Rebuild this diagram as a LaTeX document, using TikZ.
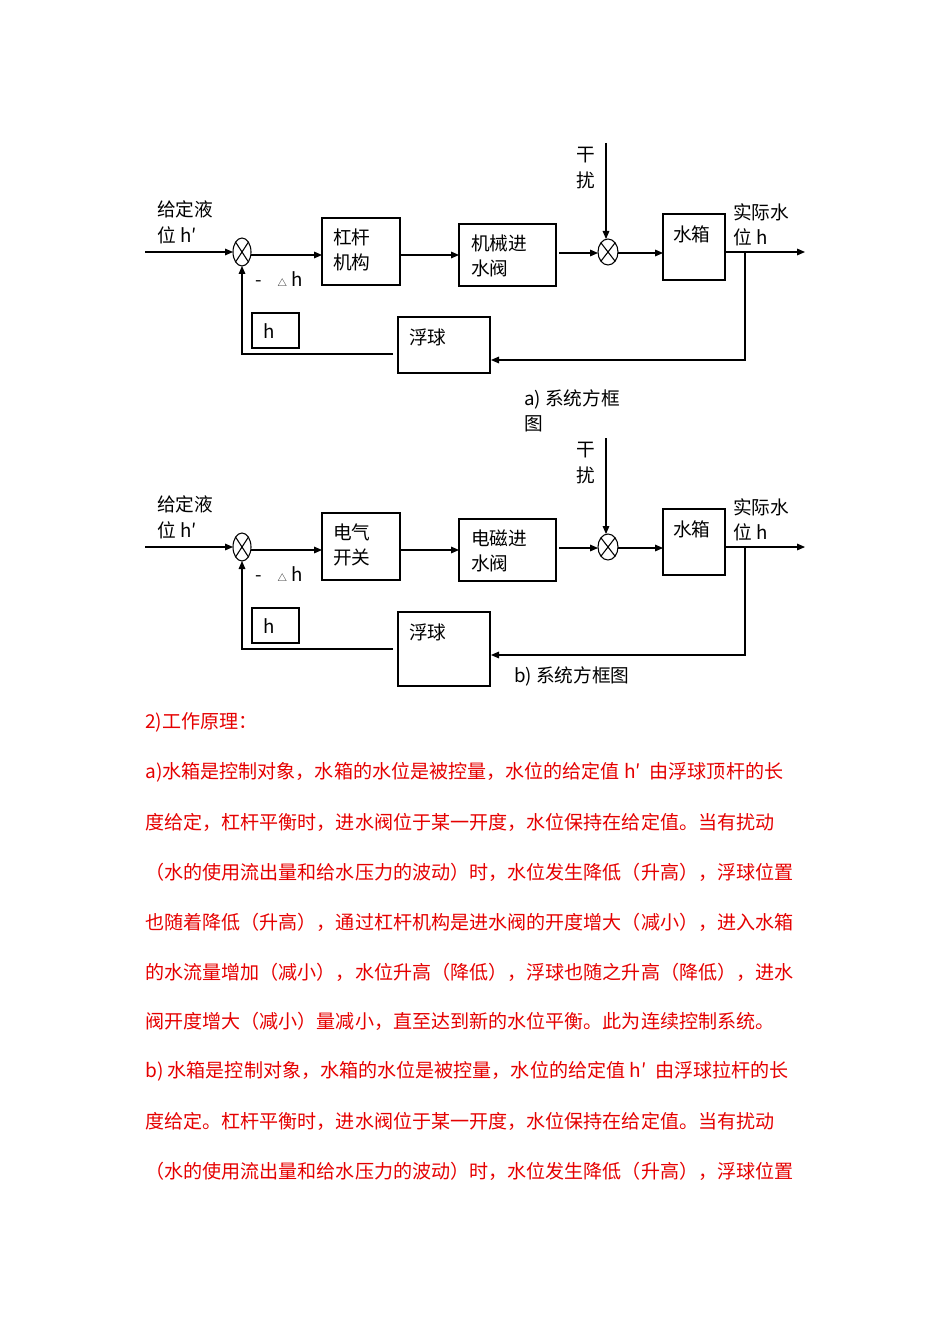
\documentclass[tikz,border=0pt]{standalone}
\usepackage{fontspec}
\setmainfont{Noto Sans CJK SC}
\usetikzlibrary{arrows.meta}
\begin{document}
\begin{tikzpicture}[x=0.75pt,y=-0.75pt,
  ln/.style={line width=0.8pt},
  arr/.style={line width=0.8pt,-{Triangle[length=6pt,width=5pt]}},
  lbl/.style={anchor=west,inner sep=0pt,font=\fontsize{14}{16}\selectfont},
  red/.style={anchor=west,inner sep=0pt,text=red!90!black,font=\fontsize{14.3}{16}\selectfont}]
\useasboundingbox (0,0) rectangle (950,1344);
\foreach \dy/\ba/\bb/\fb in {0/{杠杆}/{机构}/373,295/{电气}/{开关}/391}{
\begin{scope}[yshift=-\dy*0.75pt]
\coordinate (in) at (145,252);
\draw[ln] (242,252) ellipse [x radius=9,y radius=14];
\draw[ln] (235.6,242.1)--(248.4,261.9) (235.6,261.9)--(248.4,242.1);
\draw[arr] (in) -- (233,252);
\draw[ln] (322,218) rectangle (400,285);
\node[lbl] at (333,237) {\ba};
\node[lbl] at (333,262) {\bb};
\draw[arr] (251,255) -- (322,255);
\draw[ln] (459,224) rectangle (556,286);
\draw[arr] (400,255) -- (459,255);
\draw[ln] (608,252) ellipse [x radius=10,y radius=13];
\draw[ln] (600.9,242.8)--(615.1,261.2) (600.9,261.2)--(615.1,242.8);
\draw[arr] (559,253) -- (598,253);
\draw[arr] (606,143) -- (606,239);
\draw[ln] (663,214) rectangle (725,280);
\node[lbl] at (673,234) {水箱};
\draw[arr] (618,253) -- (663,253);
\draw[arr] (725,252) -- (805,252);
\draw[ln] (398,317) rectangle (490,\fb);
\node[lbl] at (409,337) {浮球};
\draw[arr] (745,252) -- (745,360) -- (491,360);
\draw[arr] (393,354) -- (242,354) -- (242,266);
\draw[ln] (252,313) rectangle (299,348);
\node[lbl] at (263,331) {h};
\node[lbl] at (157,209) {给定液};
\node[lbl] at (157,235) {位 h′};
\node[lbl] at (255,279) {-\hspace{12pt}{\fontsize{7}{8}\selectfont △} h};
\node[lbl] at (576,155) {干};
\node[lbl] at (576,180) {扰};
\node[lbl] at (733,212) {实际水};
\node[lbl] at (733,237) {位 h};
\end{scope}}
\node[lbl] at (471,243) {机械进};
\node[lbl] at (471,268) {水阀};
\node[lbl] at (471,538) {电磁进};
\node[lbl] at (471,563) {水阀};
\node[lbl] at (524,399) {a) 系统方框};
\node[lbl] at (524,424) {图};
\node[lbl] at (514,676) {b) 系统方框图};
\node[red] at (145,722) {2)工作原理：};
\node[red] at (145,772) {a)水箱是控制对象，水箱的水位是被控量，水位的给定值 h′ \ 由浮球顶杆的长};
\node[red] at (145,822) {度给定，杠杆平衡时，进水阀位于某一开度，水位保持在给定值。当有扰动};
\node[red] at (145,872) {（水的使用流出量和给水压力的波动）时，水位发生降低（升高），浮球位置};
\node[red] at (145,922) {也随着降低（升高），通过杠杆机构是进水阀的开度增大（减小），进入水箱};
\node[red] at (145,972) {的水流量增加（减小），水位升高（降低），浮球也随之升高（降低），进水};
\node[red] at (145,1021) {阀开度增大（减小）量减小，直至达到新的水位平衡。此为连续控制系统。};
\node[red] at (145,1071) {b) 水箱是控制对象，水箱的水位是被控量，水位的给定值 h′ \ 由浮球拉杆的长};
\node[red] at (145,1121) {度给定。杠杆平衡时，进水阀位于某一开度，水位保持在给定值。当有扰动};
\node[red] at (145,1171) {（水的使用流出量和给水压力的波动）时，水位发生降低（升高），浮球位置};
\end{tikzpicture}
\end{document}
